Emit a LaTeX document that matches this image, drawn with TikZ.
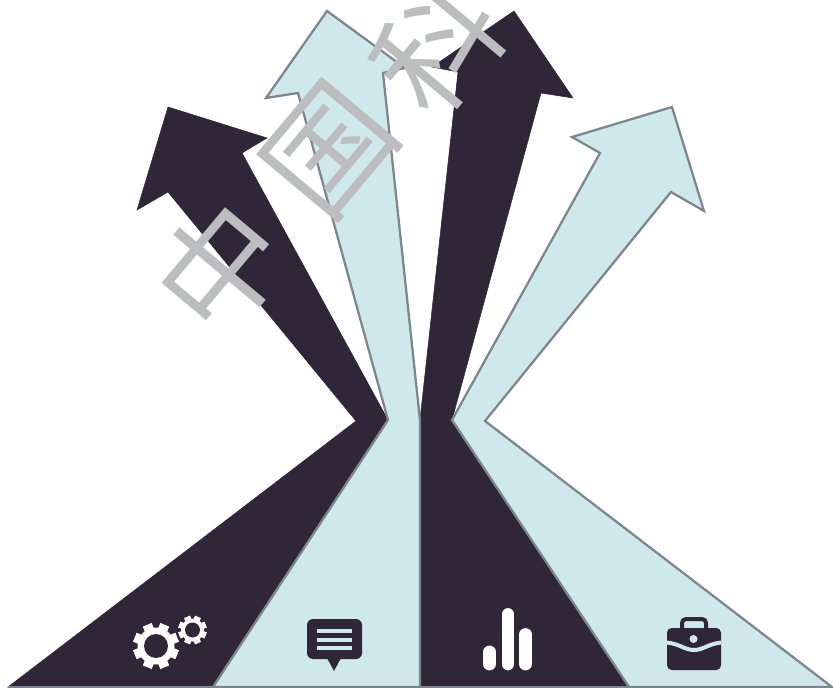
\documentclass[tikz,border=0pt]{standalone}
\usepackage{fontspec}
\newfontfamily\cjk{Noto Sans CJK SC}
\definecolor{darkarrow}{HTML}{2F2638}
\definecolor{lightarrow}{HTML}{CFE8EB}
\definecolor{edgegrey}{HTML}{7D868F}
\definecolor{markgrey}{HTML}{BBBDBF}
\tikzset{
  darkshape/.style={fill=darkarrow,draw=darkarrow,line width=0.4pt},
  lightshape/.style={fill=lightarrow,draw=edgegrey,line width=1.7pt},
  stamp/.style={text=markgrey,font=\cjk\fontsize{92}{92}\selectfont,rotate=50,inner sep=0pt},
  iconbar/.style={draw=white,line width=9.6pt,line cap=round},
  iconrule/.style={draw=lightarrow,line width=3pt},
}
\begin{document}
\begin{tikzpicture}[x=0.75pt,y=-0.75pt]
\useasboundingbox (0,0) rectangle (833,688);
\coordinate (c1) at (388,420);
\coordinate (c2) at (420,420);
\coordinate (c3) at (452,420);

% four arrows
\draw[darkshape] (8,687) -- (356,421) -- (168,192) -- (137,210) -- (168,107) -- (267,138) -- (242,153) -- (c1) -- (213,687) -- cycle;
\draw[darkshape] (420,687) -- (c2) -- (458,72) -- (432,67) -- (514,11) -- (573,98) -- (541,93) -- (c3) -- (629,687) -- cycle;
\draw[lightshape] (213,687) -- (c1) -- (298,93) -- (266,98) -- (327,11) -- (405,68) -- (383,73) -- (c2) -- (420,687) -- cycle;
\draw[lightshape] (629,687) -- (c3) -- (600,153) -- (572,137) -- (672,107) -- (704,211) -- (671,192) -- (485,421) -- (832,687) -- cycle;
\draw[edgegrey,line width=1.7pt] (8,687) -- (832,687);

% watermark
\node[stamp] (mark1) at (220,268) {中};
\node[stamp] (mark2) at (330,150) {国};
\node[stamp] (mark3) at (437,46) {科};

% gears
\foreach \gx/\gy/\gr/\gh/\gw in {156/646/18.5/12/4.8,192.5/630/11.5/7.5/3.2}{
  \fill[white] (\gx,\gy) circle[radius=\gr];
  \foreach \a in {0,45,...,315}
    \fill[white,rotate around={\a+22.5:(\gx,\gy)}] (\gx-\gw,\gy-\gr-0.24*\gr) rectangle (\gx+\gw,\gy-\gr+2);
  \fill[darkarrow] (\gx,\gy) circle[radius=\gh];
}

% speech bubble
\fill[darkarrow,rounded corners=4.5pt] (307,619) rectangle (362,659);
\fill[darkarrow] (327,658) -- (341,658) -- (334,671) -- cycle;
\foreach \ly in {631,639.5,648}
  \draw[iconrule] (317,\ly) -- (351.5,\ly);

% bars
\draw[iconbar] (489.5,652) -- (489.5,664);
\draw[iconbar] (508,614.5) -- (508,664);
\draw[iconbar] (525.5,634.5) -- (525.5,664);

% briefcase
\draw[darkarrow,line width=3pt,rounded corners=3pt] (682,630) -- (682,619) -- (706,619) -- (706,630);
\fill[darkarrow,rounded corners=3.5pt] (667,628) rectangle (721,670);
\draw[iconrule] (667,642.5) .. controls (680,644) and (685,650) .. (694,650) .. controls (703,650) and (708,644) .. (721,642.5);
\fill[lightarrow] (693.5,639) circle[radius=4];
\end{tikzpicture}
\end{document}
